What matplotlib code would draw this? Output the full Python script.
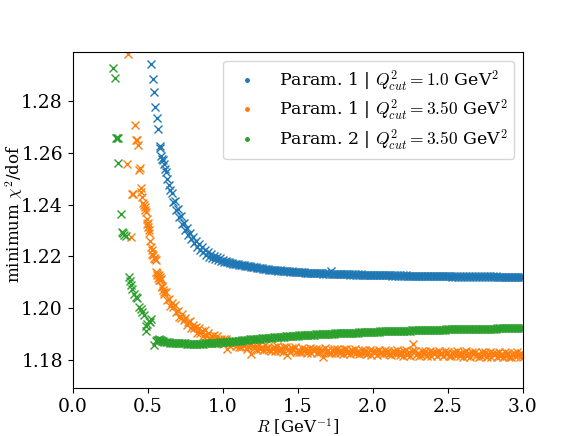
import numpy as np
import matplotlib

matplotlib.use('Agg')
import matplotlib.pyplot as plt
from matplotlib.lines import Line2D

plt.rcParams['font.family'] = 'serif'
plt.rcParams['font.serif'] = ['DejaVu Serif']
plt.rcParams['mathtext.fontset'] = 'cm'

# --- datos ---
# puntos dispersos a R pequeño (R, chi2/dof)
r_blue_low = [0.520, 0.533, 0.545, 0.551, 0.562, 0.571, 0.580, 0.584, 0.591, 0.596, 0.604, 0.610, 0.615]
chi_blue_low = [1.2943, 1.2885, 1.2836, 1.2780, 1.2735, 1.2693, 1.2627, 1.2620, 1.2590, 1.2575, 1.2572, 1.2557, 1.2540]

r_orange_low = [0.360, 0.371, 0.391, 0.398, 0.402, 0.413, 0.422, 0.428, 0.433, 0.444, 0.447, 0.453,
                0.458, 0.464, 0.470, 0.476, 0.481, 0.484, 0.487, 0.493, 0.498, 0.501, 0.504, 0.509,
                0.512, 0.515, 0.520, 0.526, 0.531, 0.536, 0.542, 0.547, 0.553, 0.558, 0.560, 0.564,
                0.570, 0.573, 0.576, 0.581, 0.584, 0.587, 0.595, 0.598, 0.603, 0.606, 0.609]
chi_orange_low = [1.2559, 1.2985, 1.2275, 1.2443, 1.2440, 1.2707, 1.2652, 1.2650, 1.2632, 1.2533, 1.2542, 1.2466,
                  1.2450, 1.2430, 1.2405, 1.2397, 1.2380, 1.2390, 1.2371, 1.2345, 1.2327, 1.2330, 1.2315, 1.2301,
                  1.2290, 1.2260, 1.2236, 1.2225, 1.2210, 1.2205, 1.2195, 1.2190, 1.2184, 1.2140, 1.2135, 1.2126,
                  1.2118, 1.2107, 1.2126, 1.2110, 1.2120, 1.2114, 1.2085, 1.2080, 1.2070, 1.2062, 1.2055]

r_green_low = [0.271, 0.282, 0.290, 0.298, 0.305, 0.302, 0.320, 0.331, 0.336, 0.342, 0.353, 0.375,
               0.381, 0.387, 0.398, 0.409, 0.420, 0.431, 0.442, 0.453, 0.464, 0.476, 0.487, 0.492,
               0.498, 0.509, 0.515, 0.520, 0.542, 0.553, 0.564, 0.570, 0.576, 0.581, 0.587, 0.595,
               0.600, 0.610]
chi_green_low = [1.2930, 1.2890, 1.2658, 1.2658, 1.2658, 1.2563, 1.2364, 1.2294, 1.2290, 1.2281, 1.2277, 1.2120,
                 1.2105, 1.2088, 1.2075, 1.2055, 1.2042, 1.2040, 1.2004, 1.1995, 1.1985, 1.1972, 1.1911, 1.1930,
                 1.1939, 1.1950, 1.1945, 1.1959, 1.1855, 1.1872, 1.1875, 1.1877, 1.1878, 1.1876, 1.1875, 1.1873,
                 1.1871, 1.1869]

# malla regular de R para la cola (0.62 ... 3.00, paso 0.01)
r_tail = np.round(np.arange(0.62, 3.0001, 0.01), 2)

chi_blue_tail = [
    1.2525, 1.2500, 1.2478, 1.2456, 1.2446, 1.2411, 1.2413, 1.2381, 1.2383, 1.2353,
    1.2358, 1.2327, 1.2330, 1.2302, 1.2310, 1.2283, 1.2291, 1.2266, 1.2274, 1.2251,
    1.2260, 1.2238, 1.2248, 1.2226, 1.2236, 1.2216, 1.2226, 1.2207, 1.2217, 1.2199,
    1.2209, 1.2194, 1.2203, 1.2188, 1.2197, 1.2184, 1.2192, 1.2180, 1.2187, 1.2179,
    1.2181, 1.2178, 1.2178, 1.2175, 1.2175, 1.2172, 1.2172, 1.2169, 1.2169, 1.2167,
    1.2167, 1.2165, 1.2165, 1.2163, 1.2163, 1.2161, 1.2161, 1.2159, 1.2159, 1.2157,
    1.2157, 1.2155, 1.2155, 1.2153, 1.2153, 1.2151, 1.2152, 1.2150, 1.2150, 1.2149,
    1.2149, 1.2148, 1.2148, 1.2146, 1.2147, 1.2145, 1.2146, 1.2144, 1.2145, 1.2143,
    1.2144, 1.2142, 1.2143, 1.2141, 1.2142, 1.2140, 1.2141, 1.2139, 1.2140, 1.2138,
    1.2139, 1.2138, 1.2138, 1.2137, 1.2137, 1.2136, 1.2137, 1.2135, 1.2136, 1.2135,
    1.2136, 1.2134, 1.2135, 1.2134, 1.2135, 1.2133, 1.2134, 1.2133, 1.2134, 1.2132,
    1.2144, 1.2132, 1.2133, 1.2131, 1.2133, 1.2131, 1.2132, 1.2130, 1.2132, 1.2130,
    1.2131, 1.2130, 1.2131, 1.2129, 1.2131, 1.2129, 1.2130, 1.2129, 1.2130, 1.2128,
    1.2130, 1.2128, 1.2129, 1.2128, 1.2129, 1.2127, 1.2129, 1.2127, 1.2128, 1.2127,
    1.2128, 1.2127, 1.2128, 1.2126, 1.2128, 1.2126, 1.2127, 1.2126, 1.2127, 1.2126,
    1.2127, 1.2125, 1.2127, 1.2125, 1.2126, 1.2125, 1.2126, 1.2125, 1.2126, 1.2124,
    1.2126, 1.2124, 1.2125, 1.2124, 1.2125, 1.2124, 1.2125, 1.2123, 1.2125, 1.2123,
    1.2125, 1.2123, 1.2124, 1.2123, 1.2124, 1.2123, 1.2124, 1.2123, 1.2124, 1.2122,
    1.2124, 1.2122, 1.2124, 1.2122, 1.2123, 1.2122, 1.2123, 1.2122, 1.2123, 1.2122,
    1.2123, 1.2121, 1.2123, 1.2121, 1.2123, 1.2121, 1.2123, 1.2121, 1.2122, 1.2121,
    1.2122, 1.2121, 1.2122, 1.2121, 1.2122, 1.2121, 1.2122, 1.2121, 1.2122, 1.2121,
    1.2122, 1.2120, 1.2122, 1.2120, 1.2122, 1.2120, 1.2122, 1.2120, 1.2122, 1.2120,
    1.2122, 1.2120, 1.2121, 1.2120, 1.2121, 1.2120, 1.2121, 1.2120, 1.2121, 1.2120,
    1.2121, 1.2120, 1.2121, 1.2120, 1.2121, 1.2120, 1.2121, 1.2120, 1.2121,
]

chi_orange_tail = [
    1.2062, 1.2031, 1.2035, 1.2007, 1.2021, 1.2003, 1.2012, 1.1985, 1.1987, 1.1966,
    1.1962, 1.1975, 1.1955, 1.1962, 1.1935, 1.1946, 1.1948, 1.1921, 1.1935, 1.1923,
    1.1928, 1.1905, 1.1924, 1.1905, 1.1909, 1.1893, 1.1913, 1.1893, 1.1903, 1.1883,
    1.1879, 1.1891, 1.1894, 1.1875, 1.1892, 1.1876, 1.1867, 1.1880, 1.1859, 1.1880,
    1.1879, 1.1843, 1.1870, 1.1853, 1.1869, 1.1860, 1.1870, 1.1853, 1.1860, 1.1848,
    1.1850, 1.1864, 1.1851, 1.1860, 1.1842, 1.1853, 1.1858, 1.1823, 1.1854, 1.1846,
    1.1854, 1.1837, 1.1855, 1.1842, 1.1848, 1.1837, 1.1855, 1.1841, 1.1850, 1.1836,
    1.1834, 1.1845, 1.1849, 1.1835, 1.1851, 1.1839, 1.1833, 1.1845, 1.1830, 1.1847,
    1.1849, 1.1817, 1.1843, 1.1828, 1.1844, 1.1836, 1.1848, 1.1831, 1.1839, 1.1828,
    1.1831, 1.1846, 1.1834, 1.1843, 1.1826, 1.1838, 1.1844, 1.1826, 1.1840, 1.1833,
    1.1841, 1.1825, 1.1843, 1.1830, 1.1836, 1.1810, 1.1844, 1.1831, 1.1839, 1.1826,
    1.1824, 1.1836, 1.1840, 1.1827, 1.1843, 1.1831, 1.1825, 1.1837, 1.1822, 1.1840,
    1.1841, 1.1824, 1.1835, 1.1820, 1.1837, 1.1829, 1.1840, 1.1824, 1.1832, 1.1821,
    1.1824, 1.1839, 1.1827, 1.1837, 1.1820, 1.1831, 1.1837, 1.1819, 1.1834, 1.1827,
    1.1835, 1.1819, 1.1837, 1.1825, 1.1831, 1.1821, 1.1838, 1.1825, 1.1834, 1.1821,
    1.1818, 1.1830, 1.1834, 1.1821, 1.1837, 1.1825, 1.1819, 1.1831, 1.1816, 1.1834,
    1.1836, 1.1819, 1.1830, 1.1815, 1.1832, 1.1859, 1.1835, 1.1819, 1.1827, 1.1816,
    1.1819, 1.1834, 1.1822, 1.1832, 1.1815, 1.1826, 1.1832, 1.1814, 1.1829, 1.1822,
    1.1830, 1.1814, 1.1832, 1.1820, 1.1826, 1.1815, 1.1833, 1.1820, 1.1829, 1.1816,
    1.1814, 1.1826, 1.1830, 1.1817, 1.1833, 1.1821, 1.1815, 1.1827, 1.1812, 1.1830,
    1.1832, 1.1815, 1.1826, 1.1811, 1.1828, 1.1820, 1.1831, 1.1815, 1.1823, 1.1812,
    1.1815, 1.1830, 1.1818, 1.1828, 1.1811, 1.1822, 1.1828, 1.1810, 1.1825, 1.1818,
    1.1826, 1.1810, 1.1828, 1.1816, 1.1822, 1.1811, 1.1829, 1.1816, 1.1825, 1.1812,
    1.1810, 1.1822, 1.1826, 1.1813, 1.1829, 1.1817, 1.1812, 1.1824, 1.1809,
]

chi_green_tail = [
    1.1868, 1.1868, 1.1867, 1.1866, 1.1866, 1.1865, 1.1865, 1.1864, 1.1864, 1.1864,
    1.1863, 1.1863, 1.1863, 1.1863, 1.1862, 1.1862, 1.1862, 1.1862, 1.1862, 1.1862,
    1.1862, 1.1862, 1.1862, 1.1862, 1.1862, 1.1862, 1.1863, 1.1863, 1.1863, 1.1863,
    1.1864, 1.1864, 1.1865, 1.1865, 1.1866, 1.1866, 1.1867, 1.1867, 1.1868, 1.1868,
    1.1869, 1.1869, 1.1870, 1.1870, 1.1871, 1.1871, 1.1872, 1.1873, 1.1873, 1.1874,
    1.1874, 1.1875, 1.1875, 1.1876, 1.1876, 1.1877, 1.1878, 1.1878, 1.1879, 1.1879,
    1.1880, 1.1880, 1.1881, 1.1881, 1.1882, 1.1882, 1.1883, 1.1883, 1.1884, 1.1884,
    1.1885, 1.1885, 1.1886, 1.1886, 1.1887, 1.1887, 1.1888, 1.1888, 1.1889, 1.1889,
    1.1890, 1.1890, 1.1891, 1.1891, 1.1892, 1.1892, 1.1893, 1.1893, 1.1893, 1.1894,
    1.1894, 1.1895, 1.1895, 1.1895, 1.1896, 1.1896, 1.1896, 1.1897, 1.1897, 1.1897,
    1.1898, 1.1898, 1.1898, 1.1899, 1.1899, 1.1899, 1.1900, 1.1900, 1.1900, 1.1900,
    1.1901, 1.1901, 1.1901, 1.1902, 1.1902, 1.1902, 1.1902, 1.1903, 1.1903, 1.1903,
    1.1903, 1.1904, 1.1904, 1.1904, 1.1904, 1.1905, 1.1905, 1.1905, 1.1905, 1.1906,
    1.1906, 1.1906, 1.1906, 1.1906, 1.1907, 1.1907, 1.1907, 1.1907, 1.1908, 1.1908,
    1.1908, 1.1908, 1.1908, 1.1909, 1.1909, 1.1909, 1.1909, 1.1909, 1.1910, 1.1910,
    1.1910, 1.1910, 1.1910, 1.1911, 1.1911, 1.1911, 1.1911, 1.1911, 1.1912, 1.1912,
    1.1912, 1.1912, 1.1912, 1.1912, 1.1913, 1.1913, 1.1913, 1.1913, 1.1913, 1.1914,
    1.1914, 1.1914, 1.1914, 1.1914, 1.1914, 1.1915, 1.1915, 1.1915, 1.1915, 1.1915,
    1.1915, 1.1916, 1.1916, 1.1916, 1.1916, 1.1916, 1.1916, 1.1917, 1.1917, 1.1917,
    1.1917, 1.1917, 1.1917, 1.1917, 1.1918, 1.1918, 1.1918, 1.1918, 1.1918, 1.1918,
    1.1918, 1.1918, 1.1919, 1.1919, 1.1919, 1.1919, 1.1919, 1.1919, 1.1919, 1.1919,
    1.1920, 1.1920, 1.1920, 1.1920, 1.1920, 1.1920, 1.1920, 1.1920, 1.1920, 1.1920,
    1.1920, 1.1921, 1.1921, 1.1921, 1.1921, 1.1921, 1.1921, 1.1921, 1.1921, 1.1921,
    1.1921, 1.1921, 1.1921, 1.1921, 1.1921, 1.1921, 1.1922, 1.1922, 1.1922,
]

labels = [
    r'Param. 1 | $Q^2_{cut} = 1.0$ GeV$^2$',
    r'Param. 1 | $Q^2_{cut} = 3.50$ GeV$^2$',
    r'Param. 2 | $Q^2_{cut} = 3.50$ GeV$^2$',
]
colores = ['C0', 'C1', 'C2']

series = [
    (r_blue_low, chi_blue_low, chi_blue_tail),
    (r_orange_low, chi_orange_low, chi_orange_tail),
    (r_green_low, chi_green_low, chi_green_tail),
]

fig, ax = plt.subplots(figsize=(5.81, 4.36), dpi=100)

for (r_low, chi_low, chi_tail), c in zip(series, colores):
    r = np.concatenate([r_low, r_tail])
    chi = np.concatenate([chi_low, chi_tail])
    ax.plot(r, chi, 'x', color=c, ms=5.8, mew=1.0)

handles = [Line2D([], [], marker='.', ls='none', color=c, ms=5) for c in colores]
ax.legend(handles, labels, loc='upper right', fontsize=12.5, labelspacing=0.3)

ax.set_xlim(0, 3)
ax.set_ylim(1.169, 1.299)
ax.set_xticks(np.arange(0, 3.01, 0.5))
ax.set_yticks([1.18, 1.20, 1.22, 1.24, 1.26, 1.28])
ax.tick_params(labelsize=13.5)
ax.set_xlabel(r'$R$ [GeV$^{-1}$]', fontsize=12, labelpad=0.5)
ax.set_ylabel(r'minimum $\chi^2$/dof', fontsize=12)
ax.yaxis.set_label_coords(-0.106, 0.52)

plt.savefig('out.png')
plt.close()
